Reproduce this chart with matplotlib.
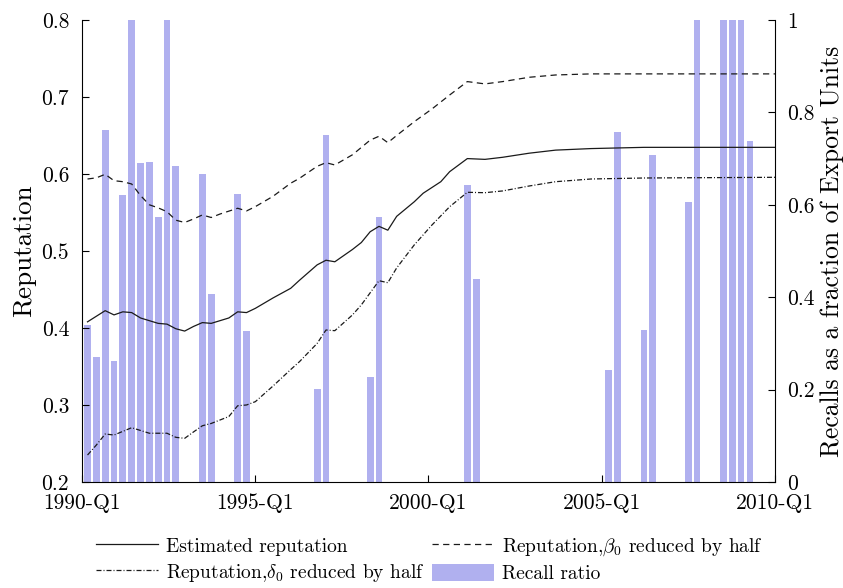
import numpy as np
import matplotlib
matplotlib.use("Agg")
import matplotlib.pyplot as plt
from matplotlib.patches import Patch
from matplotlib.lines import Line2D

plt.rcParams["font.family"] = ["cmr10", "DejaVu Serif"]
plt.rcParams["mathtext.fontset"] = "cm"
plt.rcParams["axes.unicode_minus"] = False

# Period index (quarters since 1990-Q1) and x-axis labels
x_tick_labels = ["1990-Q1", "1995-Q1", "2000-Q1", "2005-Q1", "2010-Q1"]

# Recall ratio (share of export units), by period index
recall_idx = [0, 1, 2, 3, 4, 5, 6, 7, 8, 9, 10, 13, 14, 17, 18, 26, 27, 32, 33,
              43, 44, 59, 60, 63, 64, 68, 69, 72, 73, 74, 75]
recall_val = [0.340, 0.271, 0.762, 0.262, 0.621, 1.0, 0.690, 0.692, 0.574, 1.0,
              0.685, 0.666, 0.406, 0.623, 0.326, 0.201, 0.750, 0.227, 0.574,
              0.642, 0.440, 0.242, 0.758, 0.330, 0.708, 0.605, 1.0, 1.0, 1.0,
              1.0, 0.737]

# Estimated reputation
est_idx = [0, 2, 3, 4, 5, 6, 8, 9, 10, 11, 12, 13, 14, 16, 17, 18, 19, 21, 23,
           24, 26, 27, 28, 30, 31, 32, 33, 34, 35, 37, 38, 40, 41, 43, 45, 47,
           50, 53, 57, 63, 78]
est_val = [0.408, 0.4225, 0.417, 0.421, 0.420, 0.413, 0.406, 0.405, 0.399,
           0.396, 0.402, 0.407, 0.406, 0.413, 0.421, 0.420, 0.4255, 0.439,
           0.4515, 0.462, 0.482, 0.488, 0.486, 0.502, 0.511, 0.525, 0.532,
           0.527, 0.545, 0.564, 0.575, 0.590, 0.603, 0.620, 0.619, 0.6217,
           0.627, 0.631, 0.633, 0.6346, 0.6346]

# Reputation with beta_0 halved
beta_idx = [0, 1, 2, 3, 4, 5, 6, 7, 8, 9, 10, 11, 12, 13, 14, 15, 17, 18, 19,
            21, 23, 24, 26, 27, 28, 30, 32, 33, 34, 35, 37, 39, 41, 43, 45, 47,
            50, 53, 57, 78]
beta_val = [0.5935, 0.595, 0.5996, 0.5913, 0.590, 0.587, 0.572, 0.560, 0.556,
            0.551, 0.540, 0.537, 0.5416, 0.5468, 0.5435, 0.548, 0.5555, 0.552,
            0.5576, 0.571, 0.588, 0.5944, 0.610, 0.6147, 0.6117, 0.625, 0.644,
            0.649, 0.6407, 0.650, 0.668, 0.6845, 0.7026, 0.720, 0.717, 0.720,
            0.7256, 0.7286, 0.730, 0.730]

# Reputation with delta_0 halved
delta_idx = [0, 1, 2, 3, 5, 7, 9, 10, 11, 12, 13, 14, 16, 17, 18, 19, 21, 23,
             24, 26, 27, 28, 30, 31, 33, 34, 35, 37, 39, 41, 43, 45, 47, 50, 53,
             57, 63, 78]
delta_val = [0.235, 0.248, 0.2623, 0.261, 0.2705, 0.2633, 0.2633, 0.258,
             0.2567, 0.265, 0.273, 0.276, 0.285, 0.299, 0.300, 0.3043, 0.3246,
             0.346, 0.3563, 0.380, 0.3974, 0.3965, 0.417, 0.430, 0.4614,
             0.4588, 0.478, 0.508, 0.5338, 0.5575, 0.5762, 0.5757, 0.578,
             0.5844, 0.590, 0.5935, 0.5948, 0.5957]

X_MIN, X_MAX = -0.66, 77.83
BAR_COLOR = "#b0b0ef"
LINE_COLOR = "#1a1a1a"
TICK_FS = 15.5
DASHED = (0, (5, 3.5))
DASHDOT = (0, (4, 1.6, 0.8, 1.6))

fig = plt.figure(figsize=(8.43, 5.88), dpi=100)
rect = [0.0969, 0.1803, 0.8224, 0.7857]

# Bars on their own axes (right scale), drawn beneath the lines
axb = fig.add_axes(rect)
axb.bar(recall_idx, recall_val, width=0.76, color=BAR_COLOR, edgecolor="none",
        zorder=1)
axb.set_xlim(X_MIN, X_MAX)
axb.set_ylim(0, 1)
axb.yaxis.tick_right()
axb.yaxis.set_label_position("right")
axb.set_yticks([0, 0.2, 0.4, 0.6, 0.8, 1])
axb.set_yticklabels(["0", "0.2", "0.4", "0.6", "0.8", "1"])
axb.set_ylabel("Recalls as a fraction of Export Units", fontsize=18.5,
               labelpad=4)
axb.tick_params(axis="y", direction="in", length=5, pad=9, labelsize=TICK_FS,
                right=True, left=False)
axb.set_xticks([])
for s in ["top", "left", "bottom"]:
    axb.spines[s].set_visible(False)
axb.spines["right"].set_linewidth(0.8)

# Reputation lines on the left scale
ax = fig.add_axes(rect)
ax.patch.set_alpha(0)
ax.plot(est_idx, est_val, color=LINE_COLOR, lw=0.9, ls="-")
ax.plot(beta_idx, beta_val, color=LINE_COLOR, lw=0.9, ls=DASHED)
ax.plot(delta_idx, delta_val, color=LINE_COLOR, lw=0.9, ls=DASHDOT)
ax.set_xlim(X_MIN, X_MAX)
ax.set_ylim(0.2, 0.8)
ax.set_yticks([0.2, 0.3, 0.4, 0.5, 0.6, 0.7, 0.8])
ax.set_yticklabels(["0.2", "0.3", "0.4", "0.5", "0.6", "0.7", "0.8"])
ax.set_xticks(np.linspace(X_MIN, X_MAX, len(x_tick_labels)))
ax.set_xticklabels(x_tick_labels)
ax.set_ylabel("Reputation", fontsize=19.5, labelpad=4)
ax.tick_params(axis="both", direction="in", length=5, pad=9, labelsize=TICK_FS)
ax.tick_params(axis="x", pad=8)
ax.spines["top"].set_visible(False)
ax.spines["right"].set_visible(False)
ax.spines["left"].set_linewidth(0.8)
ax.spines["bottom"].set_linewidth(0.8)

# Legend: filled column by column, so rows read est/beta then delta/recall
handles = [
    Line2D([], [], color=LINE_COLOR, lw=0.9, ls="-"),
    Line2D([], [], color=LINE_COLOR, lw=0.9, ls=DASHDOT),
    Line2D([], [], color=LINE_COLOR, lw=0.9, ls=DASHED),
    Patch(facecolor=BAR_COLOR, edgecolor="none"),
]
labels = [
    "Estimated reputation",
    r"Reputation,$\delta_0$ reduced by half",
    r"Reputation,$\beta_0$ reduced by half",
    "Recall ratio",
]
fig.legend(handles, labels, loc="center", bbox_to_anchor=(0.509, 0.0476),
           ncol=2, frameon=False, fontsize=14, handlelength=3.2,
           handletextpad=0.4, columnspacing=0.4, labelspacing=0.3,
           handleheight=1.0)

fig.savefig("out.png", dpi=100)
